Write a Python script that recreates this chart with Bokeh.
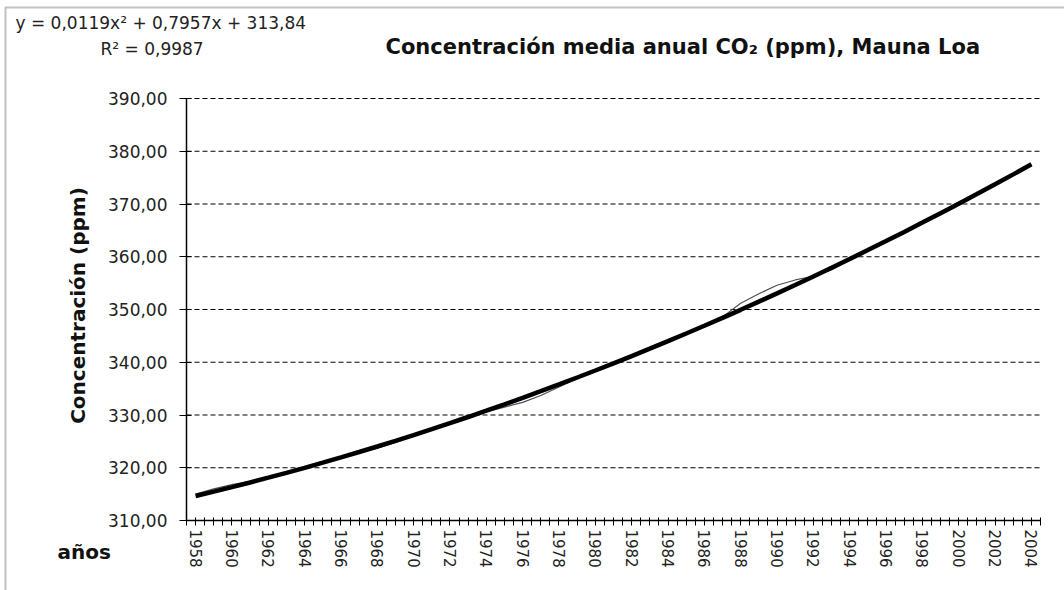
import math
from bokeh.plotting import figure
from bokeh.models import FixedTicker, Label, Range1d, LinearAxis, BoxAnnotation
from bokeh.embed import file_html
from bokeh.resources import INLINE

# ---- data ----
years = list(range(1958, 2005))
co2_annual = [315.0, 316.0, 316.8, 317.4, 318.2, 319.0, 319.8, 320.8, 321.9, 322.8,
              323.7, 324.8, 326.0, 327.2, 328.3, 329.8, 330.6, 331.5, 332.4, 333.7,
              335.3, 336.9, 338.6, 339.9, 341.1, 342.6, 344.2, 345.6, 347.0, 348.6,
              351.2, 353.0, 354.6, 355.6, 356.3, 357.5, 359.4, 361.1, 362.8, 364.5,
              366.6, 368.4, 370.4, 371.8, 373.6, 375.6, 377.5]
# polynomial trendline (as drawn on the chart)
trend = [314.65, 315.48, 316.33, 317.21, 318.12, 319.04, 319.99, 320.97, 321.97, 322.99,
         324.03, 325.10, 326.20, 327.31, 328.45, 329.62, 330.81, 332.02, 333.25, 334.51,
         335.80, 337.11, 338.44, 339.79, 341.17, 342.57, 344.00, 345.45, 346.92, 348.42,
         349.94, 351.49, 353.06, 354.65, 356.27, 357.91, 359.57, 361.26, 362.97, 364.71,
         366.47, 368.25, 370.06, 371.89, 373.74, 375.62, 377.53]
y_ticks = [310, 320, 330, 340, 350, 360, 370, 380, 390]
x_label_years = list(range(1958, 2005, 2))

title_text = "Concentración media anual CO₂ (ppm), Mauna Loa"
equation_text = "y = 0,0119x² + 0,7957x + 313,84"
r2_text = "R² = 0,9987"
y_title = "Concentración (ppm)"
x_title = "años"

FONT = "DejaVu Sans"

# ---- layout (pixels of the 1064x590 canvas) ----
W, H = 1064, 590
X0, X1 = years[0] - 0.5, years[-1] + 0.5      # category band edges
Y0, Y1 = y_ticks[0], y_ticks[-1]
PX_L, PX_R, PX_T, PX_B = 186, 1040, 98, 520    # plot area in pixels
KX = (PX_R - PX_L) / (X1 - X0)
KY = (PX_B - PX_T) / (Y1 - Y0)


def px_x(px):
    return X0 + (px - PX_L) / KX


def px_y(py):
    return Y0 + (PX_B - py) / KY


p = figure(width=W, height=H, output_backend="svg", toolbar_location=None,
           x_range=Range1d(px_x(0), px_x(W)), y_range=Range1d(px_y(H), px_y(0)),
           x_axis_location=None, y_axis_location=None, min_border=0)
p.outline_line_color = None
p.background_fill_color = "white"
p.border_fill_color = "white"
p.xgrid.visible = False
p.ygrid.visible = False

# outer frame of the picture
p.add_layout(BoxAnnotation(left=px_x(5), right=px_x(W + 20), top=px_y(7), bottom=px_y(H + 20),
                           fill_color=None, line_color="#333", line_width=2))

# dashed horizontal gridlines
p.segment(x0=X0, x1=X1, y0=y_ticks[1:], y1=y_ticks[1:], line_color="black",
          line_dash="5 3", line_width=1)

# y axis
yaxis = LinearAxis(fixed_location=X0, bounds=(Y0, Y1),
                   ticker=FixedTicker(ticks=y_ticks, minor_ticks=[]))
yaxis.major_label_overrides = {v: f"{v:.2f}".replace(".", ",") for v in y_ticks}
yaxis.major_label_text_font = FONT
yaxis.major_label_text_font_size = "17px"
yaxis.major_label_text_color = "#222"
yaxis.major_tick_in = 5
yaxis.major_tick_out = 7
yaxis.minor_tick_line_color = None
yaxis.major_tick_line_color = "black"
yaxis.axis_line_color = "black"
yaxis.axis_line_width = 1.5
yaxis.major_label_standoff = 12
p.add_layout(yaxis, "left")

# x axis
minor = [y + 0.5 for y in range(1957, 2005)] + [y for y in years if y not in x_label_years]
xaxis = LinearAxis(fixed_location=Y0, bounds=(X0, X1),
                   ticker=FixedTicker(ticks=x_label_years, minor_ticks=minor))
xaxis.major_label_orientation = "vertical"
xaxis.major_label_text_font = FONT
xaxis.major_label_text_font_size = "15px"
xaxis.major_label_text_color = "#222"
xaxis.major_tick_in = 3
xaxis.major_tick_out = 5
xaxis.minor_tick_in = 3
xaxis.minor_tick_out = 5
xaxis.minor_tick_line_color = "black"
xaxis.major_tick_line_color = "black"
xaxis.axis_line_color = "black"
xaxis.axis_line_width = 1.5
xaxis.major_label_standoff = 4
p.add_layout(xaxis, "below")

# series
p.line(years, co2_annual, line_color="#5a4a5a", line_width=1.2)
p.line(years, trend, line_color="black", line_width=4.5)

# texts
p.add_layout(Label(x=px_x(385), y=px_y(46), text=title_text, text_font=FONT,
                   text_font_style="bold", text_font_size="21px", text_color="#111",
                   text_baseline="middle"))
p.add_layout(Label(x=px_x(15), y=px_y(22), text=equation_text, text_font=FONT,
                   text_font_size="17px", text_color="#222", text_baseline="middle"))
p.add_layout(Label(x=px_x(100), y=px_y(48), text=r2_text, text_font=FONT,
                   text_font_size="17px", text_color="#222", text_baseline="middle"))
p.add_layout(Label(x=px_x(77), y=px_y(305), text=y_title, text_font=FONT,
                   text_font_style="bold", text_font_size="20px", text_color="#111",
                   text_align="center", text_baseline="middle", angle=math.pi / 2))
p.add_layout(Label(x=px_x(57), y=px_y(551), text=x_title, text_font=FONT,
                   text_font_style="bold", text_font_size="20px", text_color="#111",
                   text_baseline="middle"))

open("out.html", "w").write(file_html(p, INLINE))
